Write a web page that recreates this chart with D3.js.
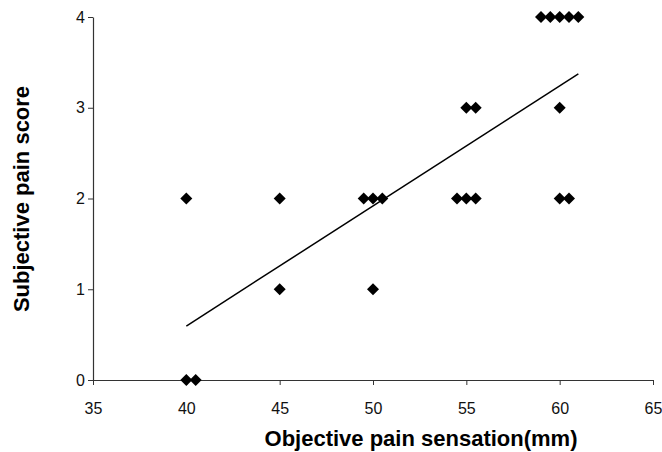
<!DOCTYPE html>
<html>
<head>
<meta charset="utf-8">
<script src="https://cdn.jsdelivr.net/npm/d3@7"></script>
<style>
  html, body { margin: 0; padding: 0; background: #fff; }
  svg { display: block; }
</style>
</head>
<body>
<svg id="chart" width="662" height="452"></svg>
<script>
// Data
const xValues = [40, 40.5, 45, 50, 40, 45, 49.5, 50, 50.5, 54.5, 55, 55.5, 60, 60.5, 55, 55.5, 60, 59, 59.5, 60, 60.5, 61];
const yValues = [0, 0, 1, 1, 2, 2, 2, 2, 2, 2, 2, 2, 2, 2, 3, 3, 3, 4, 4, 4, 4, 4];
const xTicks = [35, 40, 45, 50, 55, 60, 65];
const yTicks = [0, 1, 2, 3, 4];
const xTitle = "Objective pain sensation(mm)";
const yTitle = "Subjective pain score";

const svg = d3.select("#chart");
const mLeft = 93, mRight = 653, mTop = 17, mBottom = 380;

const x = d3.scaleLinear().domain([35, 65]).range([mLeft, mRight]);
const y = d3.scaleLinear().domain([0, 4]).range([mBottom, mTop]);

const font = "'Liberation Sans', Arial, sans-serif";

// X axis
const xAxis = svg.append("g")
  .attr("transform", `translate(0,${mBottom})`)
  .call(d3.axisBottom(x).tickValues(xTicks).tickFormat(d3.format("d")).tickSize(5).tickPadding(18).tickSizeOuter(0));
// Y axis
const yAxis = svg.append("g")
  .attr("transform", `translate(${mLeft},0)`)
  .call(d3.axisLeft(y).tickValues(yTicks).tickFormat(d3.format("d")).tickSize(5).tickPadding(3).tickSizeOuter(0));

[xAxis, yAxis].forEach(g => {
  g.select(".domain").attr("stroke", "#333").attr("stroke-width", 1.2);
  g.selectAll(".tick line").attr("stroke", "#333").attr("stroke-width", 1);
  g.selectAll(".tick text").attr("fill", "#111").attr("font-family", font).attr("font-size", 16);
});

// Trend line (least squares)
const n = xValues.length;
const mx = d3.mean(xValues), my = d3.mean(yValues);
let sxy = 0, sxx = 0;
for (let i = 0; i < n; i++) { sxy += (xValues[i] - mx) * (yValues[i] - my); sxx += (xValues[i] - mx) ** 2; }
const slope = sxy / sxx, intercept = my - slope * mx;
const x0 = d3.min(xValues), x1 = d3.max(xValues);
svg.append("line")
  .attr("x1", x(x0)).attr("y1", y(intercept + slope * x0))
  .attr("x2", x(x1)).attr("y2", y(intercept + slope * x1))
  .attr("stroke", "#000").attr("stroke-width", 1.5);

// Points (diamonds)
const diamond = d3.symbol().type(d3.symbolSquare).size(72);
svg.append("g").selectAll("path")
  .data(xValues.map((v, i) => [v, yValues[i]]))
  .join("path")
  .attr("d", diamond)
  .attr("transform", d => `translate(${x(d[0])},${y(d[1])}) rotate(45)`)
  .attr("fill", "#000");

// Titles
svg.append("text")
  .attr("x", 421).attr("y", 446)
  .attr("text-anchor", "middle")
  .attr("font-family", font).attr("font-size", 22).attr("font-weight", "bold")
  .attr("fill", "#000")
  .text(xTitle);

svg.append("text")
  .attr("transform", `translate(29,199) rotate(-90)`)
  .attr("text-anchor", "middle")
  .attr("font-family", font).attr("font-size", 22).attr("font-weight", "bold")
  .attr("fill", "#000")
  .text(yTitle);
</script>
</body>
</html>
